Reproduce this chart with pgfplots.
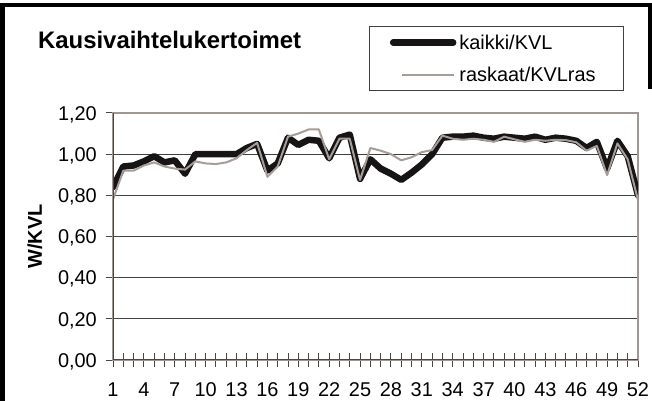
\documentclass[border=0pt]{standalone}
\usepackage{fontspec}
\setmainfont{Liberation Sans}
\usepackage{pgfplots}
\usepackage{pgfplotstable}
\pgfplotsset{compat=1.18}
\definecolor{seriesgray}{RGB}{166,156,152}
\definecolor{framegray}{RGB}{160,150,146}
\definecolor{axisdark}{RGB}{80,68,66}
\definecolor{gridgray}{RGB}{64,64,64}
\definecolor{serieblack}{RGB}{22,20,20}
\pgfplotsset{
  legblack/.style={legend image code/.code={\path (-18bp,0bp); \draw[##1] (3bp,0bp) -- (63bp,0bp);}},
  leggray/.style={legend image code/.code={\path (-18bp,0bp); \draw[##1] (12bp,0bp) -- (64bp,0bp);}},
}

\pgfplotstableread{
w kvl
1 0.84
2 0.94
3 0.945
4 0.965
5 0.99
6 0.96
7 0.97
8 0.905
9 1.00
10 1.00
11 1.00
12 1.00
13 1.00
14 1.03
15 1.05
16 0.92
17 0.955
18 1.08
19 1.045
20 1.07
21 1.065
22 0.98
23 1.08
24 1.095
25 0.88
26 0.975
27 0.93
28 0.905
29 0.875
30 0.91
31 0.95
32 1.00
33 1.08
34 1.085
35 1.085
36 1.09
37 1.08
38 1.075
39 1.085
40 1.08
41 1.075
42 1.085
43 1.07
44 1.08
45 1.075
46 1.065
47 1.03
48 1.06
49 0.93
50 1.065
51 0.99
52 0.80
}\kaikki

\pgfplotstableread{
w kvl
1 0.78
2 0.92
3 0.92
4 0.945
5 0.96
6 0.94
7 0.93
8 0.925
9 0.965
10 0.955
11 0.952
12 0.96
13 0.98
14 1.02
15 1.055
16 0.89
17 0.94
18 1.085
19 1.10
20 1.12
21 1.12
22 0.975
23 1.075
24 1.075
25 0.875
26 1.03
27 1.017
28 1.00
29 0.97
30 0.985
31 1.01
32 1.02
33 1.09
34 1.075
35 1.07
36 1.075
37 1.07
38 1.06
39 1.085
40 1.072
41 1.06
42 1.07
43 1.065
44 1.07
45 1.068
46 1.058
47 1.017
48 1.04
49 0.898
50 1.052
51 0.975
52 0.776
}\raskaat

\begin{document}
\fontsize{20}{24}\selectfont
\begin{tikzpicture}
\begin{axis}[
  at={(113bp,41bp)}, anchor=south west,
  scale only axis, width=525bp, height=247bp,
  xmin=1, xmax=52, ymin=0, ymax=1.2,
  xtick={1,4,...,52}, minor x tick num=2,
  ytick={0,0.2,0.4,0.6,0.8,1.0,1.2},
  scaled y ticks=false,
  tick pos=left,
  tick align=center,
  major tick length=14bp, minor tick length=14bp,
  every tick/.style={axisdark, line width=1bp},
  minor tick style={axisdark, line width=1bp},
  ymajorgrids, grid style={gridgray, line width=0.9bp},
  axis line style={framegray, line width=1.8bp},
  /pgf/number format/assume math mode=true,
  yticklabel style={/pgf/number format/fixed, /pgf/number format/fixed zerofill,
    /pgf/number format/precision=2, /pgf/number format/use comma,
    anchor=base east, inner sep=0pt, xshift=-9bp, yshift=-7.2bp},
  xticklabel style={anchor=base, inner sep=0pt, yshift=-29bp},
  title={Kausivaihtelukertoimet},
  title style={at={(axis description cs:-0.143,1.235)}, anchor=base west, inner sep=0pt,
    font=\fontsize{24}{28}\selectfont\bfseries},
  ylabel={W/KVL},
  ylabel style={at={(axis description cs:-0.149,0.5)}, anchor=center, inner sep=0pt,
    font=\fontsize{20}{24}\selectfont\bfseries},
  legend cell align=left,
  legend style={at={(axis description cs:0.973,1.089)}, anchor=south east,
    draw=black!75, line width=0.8bp, inner xsep=0bp, inner ysep=5.5bp, row sep=11bp,
    nodes={inner xsep=3bp, inner ysep=0pt, text height=17bp, text depth=4bp, text width=161bp,
      font=\fontsize{20}{24}\selectfont}},
]
\addplot[serieblack, line width=6.5bp, line join=round, line cap=round, legblack]
  table[x=w, y=kvl] {\kaikki};
\addlegendentry{kaikki/KVL}
\addplot[seriesgray, line width=2bp, line join=round, leggray]
  table[x=w, y=kvl] {\raskaat};
\addlegendentry{raskaat/KVLras}
\draw[axisdark, line width=1.8bp] (rel axis cs:0,1) -- (rel axis cs:0,0) -- (rel axis cs:1,0);
\end{axis}
\draw[black, line width=4bp] (2.5bp,0bp) -- (2.5bp,396bp) -- (649.5bp,396bp) -- (649.5bp,312bp);
\pgfresetboundingbox
\useasboundingbox (0bp,0bp) rectangle (652bp,401bp);
\end{tikzpicture}
\end{document}
